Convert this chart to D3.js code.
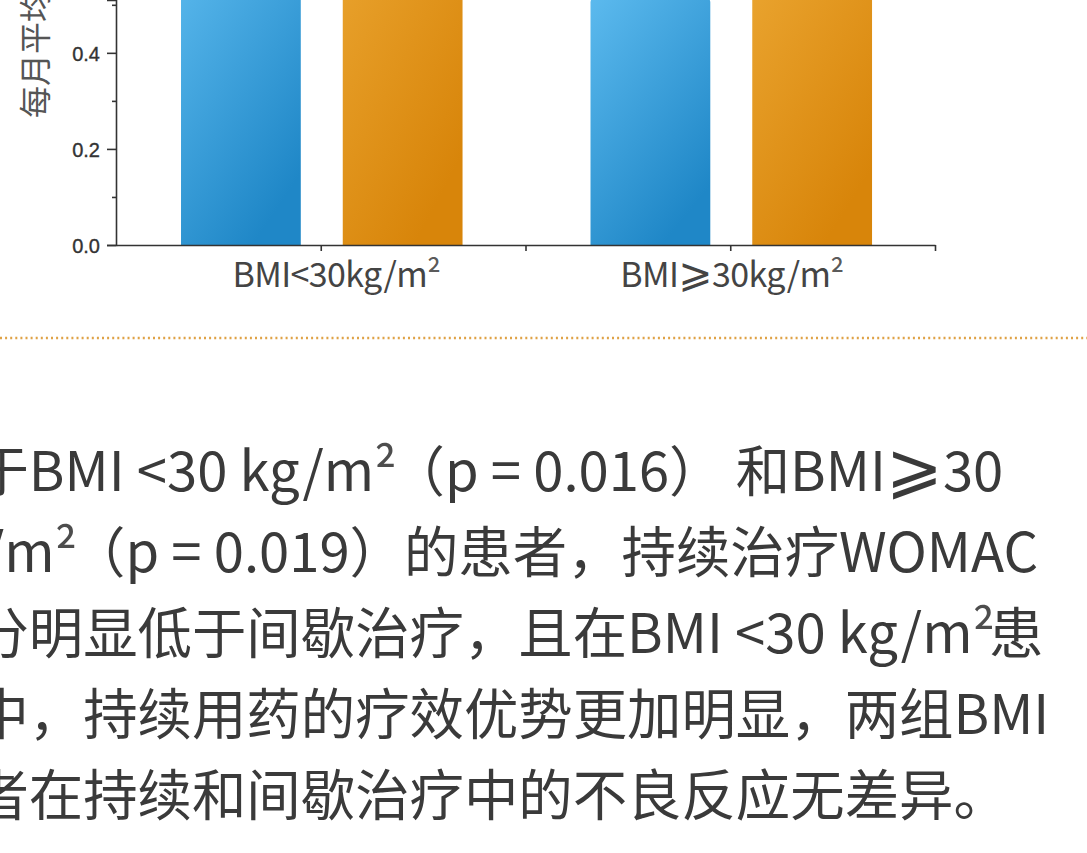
<!DOCTYPE html>
<html><head><meta charset="utf-8">
<script src="https://cdn.jsdelivr.net/npm/d3@7"></script>
<style>
html,body{margin:0;padding:0;background:#fff;overflow:hidden;}
svg{display:block;}
</style></head>
<body>
<svg id="chart" width="1087" height="853"></svg>
<script>
// ---- data ----
const categories = ["BMI<30kg/m²", "BMI⩾30kg/m²"];
const categoryPos = [1, 3];
const seriesNames = ["持续治疗", "间歇治疗"];
const seriesContinuous = [0.62, 0.515];
const seriesIntermittent = [0.78, 0.66];
const yMajorTicks = [0.0, 0.2, 0.4];
const yMinorTicks = [0.1, 0.3, 0.5];
const xTickPositions = [1, 2, 3, 4];
const yTitle = "每月平均WOMAC评分变化";
const noteLines = [
  "对于BMI <30 kg/m²（p = 0.016） 和BMI⩾30",
  "kg/m²（p = 0.019）的患者，持续治疗WOMAC",
  "评分明显低于间歇治疗，且在BMI <30 kg/m²患",
  "者中，持续用药的疗效优势更加明显，两组BMI",
  "患者在持续和间歇治疗中的不良反应无差异。"
];

const svg = d3.select("#chart");
const defs = svg.append("defs");
function grad(id, c0, c1) {
  const g = defs.append("linearGradient").attr("id", id)
    .attr("x1", "0").attr("y1", "0").attr("x2", "0.6").attr("y2", "1");
  g.append("stop").attr("offset", "0").attr("stop-color", c0);
  g.append("stop").attr("offset", "1").attr("stop-color", c1);
}
grad("gBlue", "#5cbaee", "#1f87c7");
grad("gOrange", "#eca834", "#d8850a");

// write a string into a text node, styling ² and ⩾ like the reference
function richText(sel, str, supSpacing, geScale) {
  const parts = str.split(/(²|⩾)/).filter(s => s.length);
  parts.forEach(p => {
    const t = sel.append("tspan").text(p);
    if (p === "²") t.attr("letter-spacing", supSpacing).attr("fill-opacity", 0.9);
    if (p === "⩾") t.attr("font-size", geScale + "em").attr("font-family", "DejaVu Sans");
  });
}

const x = d3.scaleLinear().domain([0, 4]).range([116, 935]);
const y = d3.scaleLinear().domain([0, 0.51]).range([245, 0]);

const series = [
  {name: seriesNames[0], values: seriesContinuous, off: -0.39, fill: "url(#gBlue)"},
  {name: seriesNames[1], values: seriesIntermittent, off: 0.40, fill: "url(#gOrange)"}
];
const barW = 0.585;

function topRounded(x0, x1, yTop, yBot, r) {
  const p = d3.path();
  p.moveTo(x0, yBot);
  p.lineTo(x0, yTop + r);
  p.quadraticCurveTo(x0, yTop, x0 + r, yTop);
  p.lineTo(x1 - r, yTop);
  p.quadraticCurveTo(x1, yTop, x1, yTop + r);
  p.lineTo(x1, yBot);
  p.closePath();
  return p.toString();
}

const bars = svg.append("g");
series.forEach(s => {
  bars.selectAll(null).data(s.values.map((v, i) => ({v, c: categoryPos[i]})))
    .enter().append("path")
    .attr("fill", s.fill)
    .attr("d", d => {
      const cx = d.c + s.off;
      return topRounded(x(cx - barW / 2), x(cx + barW / 2), y(d.v), y(0), 5);
    });
});

// y axis
const yAxis = svg.append("g").attr("transform", "translate(116,0)")
  .call(d3.axisLeft(y).tickValues(yMajorTicks).tickFormat(d3.format(".1f")).tickSize(9).tickPadding(7));
yAxis.selectAll("text").attr("font-family", "Liberation Sans, Arial, sans-serif")
  .attr("font-size", 20).attr("fill", "#333").attr("stroke", "#333").attr("stroke-width", 0.35)
  .attr("dy", "0.36em");
yAxis.select(".domain").attr("stroke", "#333").attr("stroke-width", 1.6);
yAxis.selectAll(".tick line").attr("stroke", "#333").attr("stroke-width", 1.6);
svg.append("g").attr("transform", "translate(116,0)")
  .call(d3.axisLeft(y).tickValues(yMinorTicks).tickFormat("").tickSize(4))
  .call(g => g.select(".domain").remove())
  .selectAll(".tick line").attr("stroke", "#333").attr("stroke-width", 1.6);

// y title
svg.append("text")
  .attr("transform", "translate(33,118) rotate(-90)")
  .attr("dominant-baseline", "central")
  .attr("font-family", "Noto Sans CJK SC")
  .attr("font-size", 32).attr("fill", "#555")
  .text(yTitle);

// x axis
const xAxis = svg.append("g").attr("transform", "translate(0,245)")
  .call(d3.axisBottom(x).tickValues(xTickPositions)
    .tickFormat(d => { const i = categoryPos.indexOf(d); return i >= 0 ? categories[i] : ""; })
    .tickSize(6).tickSizeOuter(0).tickPadding(10.5));
xAxis.select(".domain").attr("stroke", "#333").attr("stroke-width", 1.6);
xAxis.selectAll(".tick line").attr("stroke", "#333").attr("stroke-width", 1.6);
xAxis.selectAll(".tick text").each(function() {
  const t = d3.select(this);
  const s = t.text();
  t.text(null);
  richText(t, s, -3, 1.2);
});
xAxis.selectAll(".tick text").attr("font-family", "Noto Sans CJK SC").attr("font-size", 34)
  .attr("fill", "#444").attr("dy", "0.75em").attr("letter-spacing", -0.6);
xAxis.selectAll(".tick").filter(d => d === 1).select("text").attr("dx", 14);

// dotted separator
svg.append("line").attr("x1", 0).attr("x2", 1087).attr("y1", 338).attr("y2", 338)
  .attr("stroke", "#dfa246").attr("stroke-width", 2.5).attr("stroke-dasharray", "2,3.1");

// note text
const note = svg.append("g")
  .attr("font-family", "Noto Sans CJK SC")
  .attr("font-size", 54.4).attr("fill", "#3a3a3a");
noteLines.forEach((t, i) => {
  const line = note.append("text").attr("x", -80).attr("y", 491 + i * 81);
  richText(line, t, -6, 1.25);
});
</script>
</body></html>
